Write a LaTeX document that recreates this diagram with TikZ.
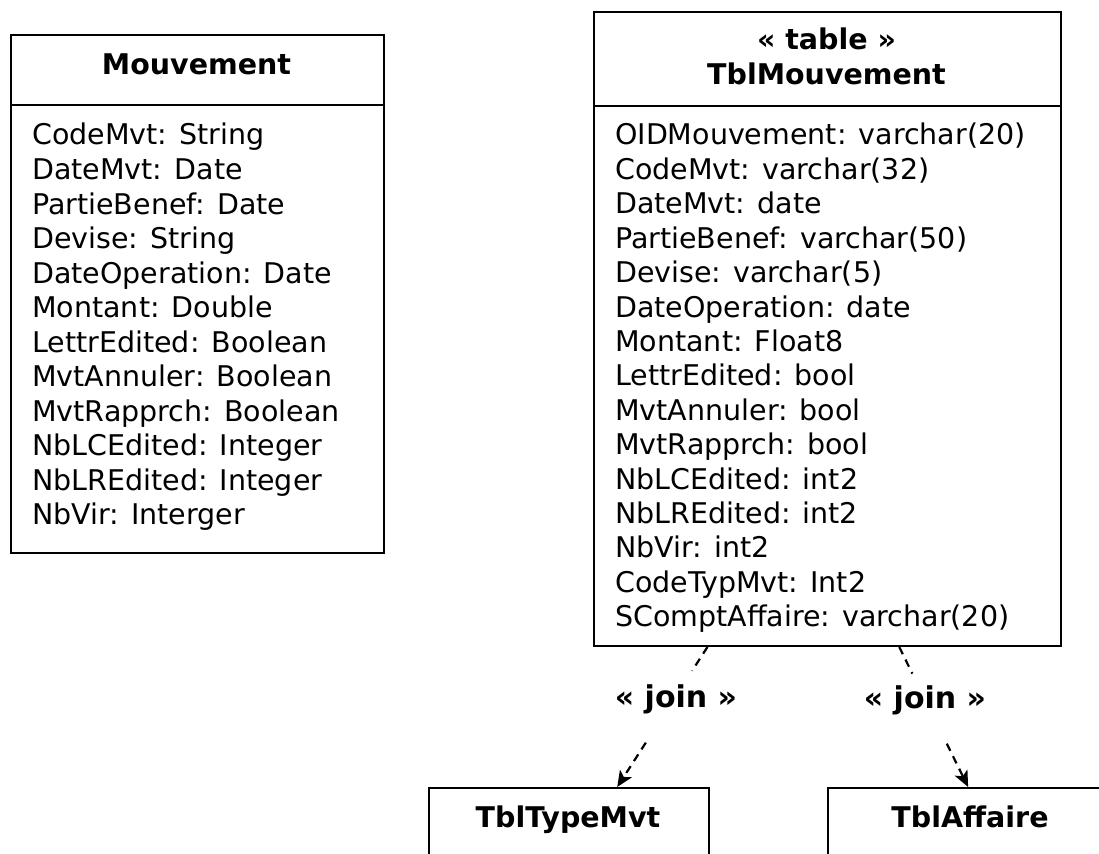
\documentclass[tikz,border=0pt]{standalone}
\usepackage{fontspec}
\setmainfont{DejaVu Sans}
\usetikzlibrary{arrows.meta,calc}

\tikzset{
  classbox/.style={draw, line width=2pt, inner sep=0pt, anchor=north west},
  sepline/.style={line width=2pt},
  title/.style={font=\fontsize{28.5}{34}\selectfont\bfseries, inner sep=0pt, anchor=base},
  attr/.style={font=\fontsize{28.5}{34}\selectfont, inner sep=0pt, anchor=base west},
  joinlbl/.style={font=\fontsize{30}{36}\selectfont\bfseries, inner sep=0pt, anchor=base},
  joinline/.style={line width=2.2pt, dash pattern=on 8pt off 6pt},
  jointip/.style={-{Stealth[length=16pt,width=14pt,inset=4pt]}},
}

\begin{document}
\begin{tikzpicture}[x=1pt, y=-1pt]
  \useasboundingbox[fill=white] (0,0) rectangle (1099,853);

  % class Mouvement
  \node[classbox, minimum width=373pt, minimum height=518pt] (mv) at (10,34) {};
  \draw[sepline] (10,105) -- (383,105);
  \node[title] (mvname) at (196.5,75) {Mouvement};
  \foreach \t [count=\i from 0] in {CodeMvt: String, DateMvt: Date,
      PartieBenef: Date, Devise: String, DateOperation: Date,
      Montant: Double, LettrEdited: Boolean, MvtAnnuler: Boolean,
      MvtRapprch: Boolean, NbLCEdited: Integer, NbLREdited: Integer,
      NbVir: Interger}
    \node[attr] (mv-\i) at (32,145+34.5*\i) {\t};

  % table TblMouvement
  \node[classbox, minimum width=467pt, minimum height=634pt] (tm) at (593,11) {};
  \draw[sepline] (593,106) -- (1060,106);
  \node[title] (tmstereo) at (826.5,50) {« table »};
  \node[title] (tmname) at (826.5,85) {TblMouvement};
  \foreach \t [count=\i from 0] in {OIDMouvement: varchar(20),
      CodeMvt: varchar(32), DateMvt: date, PartieBenef: varchar(50),
      Devise: varchar(5), DateOperation: date, Montant: Float8,
      LettrEdited: bool, MvtAnnuler: bool, MvtRapprch: bool,
      NbLCEdited: int2, NbLREdited: int2, NbVir: int2,
      CodeTypMvt: Int2, SComptAffaire: varchar(20)}
    \node[attr] (tm-\i) at (615,145+34.4*\i) {\t};

  % referenced tables (cut by the page edges)
  \node[classbox, minimum width=280pt, minimum height=120pt] (tt) at (428,787) {};
  \node[title] (ttname) at (568,827) {TblTypeMvt};
  \node[classbox, minimum width=286pt, minimum height=120pt] (ta) at (827,787) {};
  \node[title] (taname) at (970,827) {TblAffaire};

  % join dependencies
  \coordinate (s1) at ($(tm.south west)!0.244!(tm.south east)$);
  \coordinate (e1) at ($(tt.north west)!0.671!(tt.north east)$);
  \coordinate (s2) at ($(tm.south west)!0.653!(tm.south east)$);
  \coordinate (e2) at ($(ta.north west)!0.49!(ta.north east)$);

  \node[joinlbl] (j1) at (676,707) {« join »};
  \node[joinlbl] (j2) at (925,708) {« join »};

  \draw[joinline] (s1) -- ($(s1)!0.17!(e1)$);
  \draw[joinline, jointip] ($(s1)!0.683!(e1)$) -- (e1);
  \draw[joinline] (s2) -- ($(s2)!0.19!(e2)$);
  \draw[joinline, jointip] ($(s2)!0.69!(e2)$) -- (e2);
\end{tikzpicture}
\end{document}
